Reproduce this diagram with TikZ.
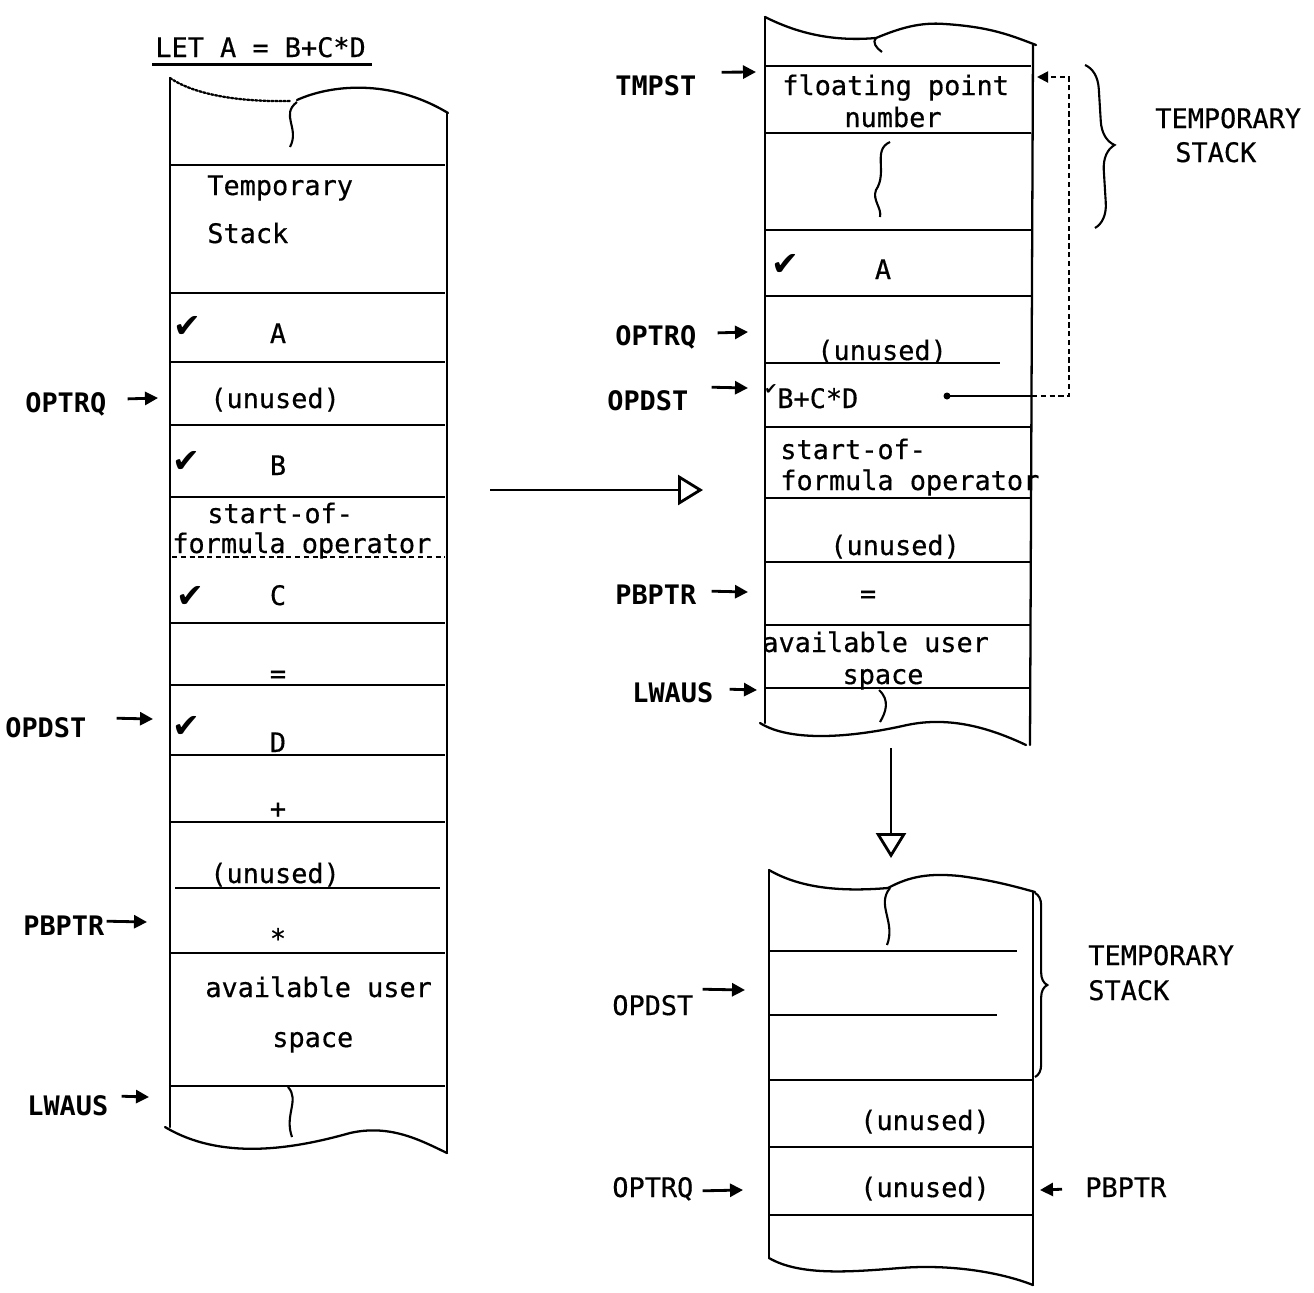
\documentclass[tikz,border=0pt]{standalone}
\usepackage{fontspec}
\setmainfont{DejaVu Sans Mono}
\newfontfamily\cellf{DejaVu Sans Mono}[FakeBold=0.5]
\newfontfamily\symf{DejaVu Sans}
\usetikzlibrary{arrows.meta,decorations.pathreplacing}
\begin{document}
\begin{tikzpicture}[x=0.02cm,y=-0.02cm,
  every node/.style={inner sep=0pt, font=\cellf\fontsize{15.3}{18}\selectfont},
  txt/.style={anchor=base west},
  ctr/.style={anchor=base},
  lab/.style={anchor=base west, font=\fontsize{15.3}{18}\selectfont\bfseries},
  labr/.style={anchor=base west},
  stk/.style={line width=1.3pt, line cap=round, line join=round},
  cell/.style={line width=1.1pt},
  ptr/.style={line width=1.6pt, -{Triangle[length=0.26cm,width=0.26cm]}},
  bigarrow/.style={line width=1.6pt, -{Triangle[open,length=0.5cm,width=0.6cm,line width=1.6pt]}},
  chk/.style={font=\symf\fontsize{19}{20}\selectfont, anchor=center},
  brk/.style={line width=1.2pt},
]
\useasboundingbox (0,0) rectangle (1314,1292);

% ---------------- title ----------------
\node[txt] (title) at (155,57) {LET A = B+C*D};
\draw[line width=1.5pt] (title.south west) ++(-3,7) -- ++(220,0);

% ---------------- left stack ----------------
\draw[stk, densely dotted] (170,78) .. controls (195,95) and (240,102) .. (290,101);
\draw[stk] (297,100) .. controls (330,85) and (390,78) .. (448,113);
\draw[stk] (170,78) -- (170,1127);
\draw[stk] (447,113) -- (447,1153);
\draw[stk] (165,1127) .. controls (220,1160) and (290,1150) .. (350,1133) .. controls (390,1124) and (420,1140) .. (447,1153);
\draw[brk] (297,102) .. controls (280,115) and (300,128) .. (290,147);
\draw[brk] (288,1087) .. controls (300,1100) and (284,1115) .. (292,1137);
\foreach \yy in {165,293,362,425,497,623,685,755,822,953,1086}
  \draw[cell] (170,\yy) -- (445,\yy);
\draw[cell, densely dashed] (172,557) -- (445,557);
\draw[cell] (175,888) -- (440,888);

\node[txt] (lTemp) at (207,195) {Temporary};
\node[txt] (lStack) at (207,243) {Stack};
\node[chk] (lcA) at (187,327) {✔};
\node[ctr] (lA) at (278,343) {A};
\node[txt] (lUn1) at (210,408) {(unused)};
\node[chk] (lcB) at (186,462) {✔};
\node[ctr] (lB) at (278,475) {B};
\node[txt] (lSof) at (207,523) {start-of-};
\node[txt] (lFop) at (172,553) {formula operator};
\node[chk] (lcC) at (190,597) {✔};
\node[ctr] (lC) at (278,605) {C};
\node[ctr] (lEq) at (278,683) {=};
\node[chk] (lcD) at (186,727) {✔};
\node[ctr] (lD) at (278,752) {D};
\node[ctr] (lPlus) at (278,818) {+};
\node[txt] (lUn2) at (210,883) {(unused)};
\node[ctr] (lStar) at (278,948) {*};
\node[txt] (lAvail) at (205,997) {available user};
\node[txt] (lSpace) at (272,1047) {space};

% left labels
\node[lab] (lOPTRQ) at (25,412) {OPTRQ};
\node[lab] (lOPDST) at (5,737) {OPDST};
\node[lab] (lPBPTR) at (23,935) {PBPTR};
\node[lab] (lLWAUS) at (27,1115) {LWAUS};
\coordinate (tOPTRQl) at (158,398);
\coordinate (tOPDSTl) at (153,719);
\coordinate (tPBPTRl) at (147,922);
\coordinate (tLWAUSl) at (149,1097);
\draw[ptr] (lOPTRQ.east) ++(21,-5) -- (tOPTRQl);
\draw[ptr] (lOPDST.east) ++(30,-9) -- (tOPDSTl);
\draw[ptr] (lPBPTR.east) ++(2,-4) -- (tPBPTRl);
\draw[ptr] (lLWAUS.east) ++(13,-9) -- (tLWAUSl);

% middle arrow
\coordinate (midA) at (490,490);
\coordinate (midB) at (703,490);
\draw[bigarrow] (midA) -- (midB);

% ---------------- top right stack ----------------
\draw[stk] (765,17) .. controls (795,32) and (830,42) .. (876,38) .. controls (900,28) and (920,22) .. (945,24) .. controls (990,27) and (1010,35) .. (1036,45);
\draw[brk] (876,38) .. controls (872,42) and (876,48) .. (882,52);
\draw[stk] (765,17) -- (765,723);
\draw[stk] (1033,45) -- (1030,745);
\draw[stk] (760,723) .. controls (790,742) and (850,738) .. (907,725) .. controls (950,716) and (990,728) .. (1026,745);
\draw[brk] (890,142) .. controls (872,150) and (888,172) .. (876,190) .. controls (872,200) and (882,208) .. (880,217);
\draw[brk] (879,690) .. controls (890,700) and (886,712) .. (880,722);
\foreach \yy in {66,133,230,296,427,498,562,625,688}
  \draw[cell] (765,\yy) -- (1031,\yy);
\draw[cell] (765,363) -- (1000,363);

\node[txt] (rFloat) at (782,95) {floating point};
\node[ctr] (rNum) at (893,127) {number};
\node[chk] (rcA) at (785,265) {✔};
\node[ctr] (rA) at (883,279) {A};
\node[txt] (rUn1) at (817,360) {(unused)};
\node[chk, font=\symf\fontsize{9}{10}\selectfont] (rcB) at (771,390) {✔};
\node[txt] (rBCD) at (777,408) {B+C*D};
\node[txt] (rSof) at (780,459) {start-of-};
\node[txt] (rFop) at (780,490) {formula operator};
\node[txt] (rUn2) at (830,555) {(unused)};
\node[ctr] (rEq) at (868,603) {=};
\node[txt] (rAvail) at (762,652) {available user};
\node[ctr] (rSpace) at (883,684) {space};

% right labels
\node[lab] (rTMPST) at (615,95) {TMPST};
\node[lab] (rOPTRQ) at (615,345) {OPTRQ};
\node[lab] (rOPDST) at (607,410) {OPDST};
\node[lab] (rPBPTR) at (615,604) {PBPTR};
\node[lab] (rLWAUS) at (632,702) {LWAUS};
\coordinate (tTMPST) at (756,72);
\coordinate (tOPTRQr) at (748,332);
\coordinate (tOPDSTr) at (748,388);
\coordinate (tPBPTRr) at (748,592);
\coordinate (tLWAUSr) at (757,690);
\draw[ptr] (rTMPST.east) ++(25,-13) -- (tTMPST);
\draw[ptr] (rOPTRQ.east) ++(21,-4) -- (tOPTRQr);
\draw[ptr] (rOPDST.east) ++(23,-13) -- (tOPDSTr);
\draw[ptr] (rPBPTR.east) ++(15,-3) -- (tPBPTRr);
\draw[ptr] (rLWAUS.east) ++(16,-3) -- (tLWAUSr);

% B+C*D -> floating point connector
\coordinate (bcddot) at (947,396);
\coordinate (redge) at (1032,0);
\coordinate (cornerTR) at (1069,77);
\coordinate (fpin) at (1037,77);
\fill (bcddot) circle (3.5);
\draw[line width=1.2pt] (bcddot) -- (bcddot -| redge);
\draw[line width=1.1pt, densely dashed, -{Triangle[length=0.22cm,width=0.22cm]}] (bcddot -| redge) -| (cornerTR) -- (fpin);

% temporary stack brace (top)
\draw[line width=1.2pt, decorate, decoration={brace, amplitude=14pt}] (1085,65) -- (1095,228);
\node[labr] (rTemp1) at (1155,128) {TEMPORARY};
\node[labr] (rTemp2) at (1175,162) {STACK};

% down arrow
\coordinate (dA) at (891,748);
\coordinate (dB) at (891,858);
\draw[bigarrow] (dA) -- (dB);

% ---------------- bottom right stack ----------------
\draw[stk] (769,870) .. controls (800,888) and (840,892) .. (888,888) .. controls (910,876) and (930,873) .. (960,876) .. controls (990,880) and (1010,885) .. (1035,892);
\draw[brk] (890,888) .. controls (876,905) and (896,922) .. (887,945);
\draw[stk] (769,870) -- (769,1258);
\draw[stk] (1033,892) -- (1033,1285);
\draw[stk] (769,1258) .. controls (800,1276) and (850,1272) .. (900,1268) .. controls (950,1264) and (1000,1272) .. (1033,1285);
\draw[cell] (769,951) -- (1017,951);
\draw[cell] (769,1015) -- (997,1015);
\foreach \yy in {1080,1147,1215}
  \draw[cell] (769,\yy) -- (1033,\yy);

\node[ctr] (bUn1) at (925,1130) {(unused)};
\node[ctr] (bUn2) at (925,1197) {(unused)};

\draw[line width=1.2pt, decorate, decoration={brace, amplitude=7pt}] (1035,893) -- (1035,1077);
\node[labr] (bTemp1) at (1088,965) {TEMPORARY};
\node[labr] (bTemp2) at (1088,1000) {STACK};

\node[labr] (bOPDST) at (612,1015) {OPDST};
\node[labr] (bOPTRQ) at (612,1197) {OPTRQ};
\node[labr] (bPBPTR) at (1085,1197) {PBPTR};
\coordinate (tOPDSTb) at (745,990);
\coordinate (tOPTRQb) at (743,1190);
\coordinate (tPBPTRb) at (1040,1190);
\draw[ptr] (bOPDST.east) ++(9,-16) -- (tOPDSTb);
\draw[ptr] (bOPTRQ.east) ++(9,2) -- (tOPTRQb);
\draw[ptr] (bPBPTR.west) ++(-23,2) -- (tPBPTRb);

\end{tikzpicture}
\end{document}
